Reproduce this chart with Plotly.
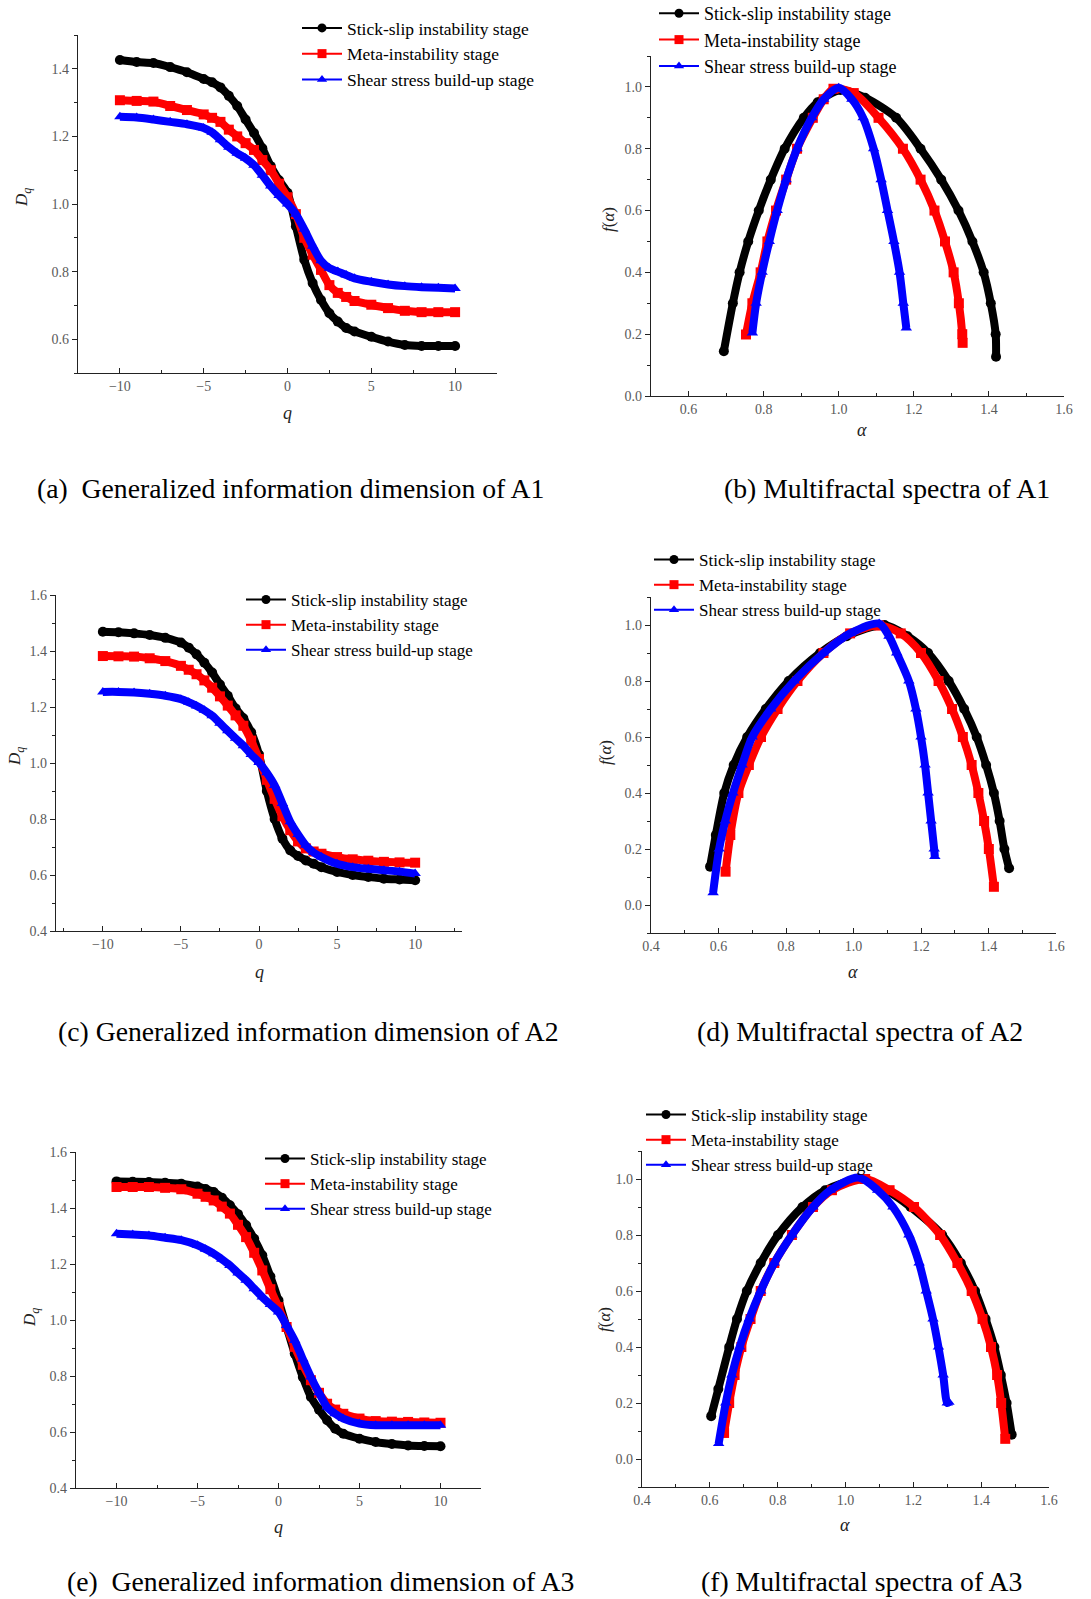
import plotly.graph_objects as go

W, H = 1091, 1599

# ---------------- data ----------------
Q = [-10, -9, -8, -7, -6, -5, -4.5, -4, -3.5, -3, -2.5, -2, -1.5, -1, -0.5,
     0, 0.5, 1, 1.5, 2, 2.5, 3, 3.5, 4, 5, 6, 7, 8, 9, 10]

a_black = [1.426, 1.42, 1.417, 1.405, 1.39, 1.37, 1.36, 1.345, 1.32, 1.29, 1.25, 1.21, 1.165, 1.112, 1.07,
           1.033, 0.934, 0.835, 0.766, 0.716, 0.677, 0.652, 0.633, 0.623, 0.607, 0.593, 0.583, 0.58, 0.58, 0.58]
a_red = [1.307, 1.305, 1.303, 1.29, 1.278, 1.265, 1.255, 1.243, 1.22, 1.2, 1.18, 1.16, 1.13, 1.1, 1.06,
         1.02, 0.97, 0.9, 0.85, 0.805, 0.76, 0.737, 0.725, 0.713, 0.702, 0.692, 0.684, 0.68, 0.68, 0.68]
a_blue = [1.258, 1.256, 1.25, 1.243, 1.236, 1.225, 1.212, 1.19, 1.168, 1.15, 1.135, 1.115, 1.085, 1.053, 1.025,
          1.0, 0.97, 0.925, 0.875, 0.832, 0.81, 0.8, 0.79, 0.78, 0.77, 0.762, 0.757, 0.754, 0.752, 0.75]

c_black = [1.469, 1.467, 1.463, 1.457, 1.447, 1.43, 1.412, 1.388, 1.358, 1.323, 1.28, 1.24, 1.195, 1.16, 1.11,
           1.03, 0.9, 0.8, 0.73, 0.688, 0.668, 0.652, 0.64, 0.628, 0.611, 0.6, 0.593, 0.587, 0.584, 0.581]
c_red = [1.382, 1.381, 1.38, 1.374, 1.364, 1.347, 1.333, 1.317, 1.295, 1.269, 1.238, 1.205, 1.17, 1.133, 1.08,
         1.014, 0.94, 0.872, 0.81, 0.76, 0.72, 0.695, 0.684, 0.676, 0.664, 0.656, 0.651, 0.647, 0.645, 0.644]
c_blue = [1.254, 1.254, 1.252, 1.247, 1.24, 1.228, 1.217, 1.204, 1.188, 1.169, 1.142, 1.115, 1.088, 1.062, 1.03,
          1.002, 0.965, 0.92, 0.855, 0.79, 0.745, 0.706, 0.68, 0.664, 0.64, 0.628, 0.622, 0.617, 0.612, 0.605]

e_black = [1.495, 1.494, 1.493, 1.49, 1.487, 1.477, 1.468, 1.457, 1.437, 1.41, 1.378, 1.338, 1.29, 1.231, 1.155,
           1.07, 0.975, 0.88, 0.796, 0.725, 0.68, 0.642, 0.612, 0.594, 0.576, 0.564, 0.557, 0.552, 0.55, 0.549]
e_red = [1.475, 1.475, 1.475, 1.472, 1.467, 1.451, 1.44, 1.427, 1.405, 1.38, 1.34, 1.296, 1.24, 1.177, 1.11,
         1.046, 0.975, 0.904, 0.84, 0.785, 0.74, 0.701, 0.68, 0.665, 0.648, 0.639, 0.637, 0.636, 0.634, 0.633]
e_blue = [1.308, 1.305, 1.302, 1.294, 1.285, 1.267, 1.253, 1.237, 1.217, 1.195, 1.168, 1.142, 1.112, 1.082, 1.055,
          1.029, 0.98, 0.927, 0.86, 0.796, 0.74, 0.689, 0.665, 0.648, 0.63, 0.624, 0.624, 0.624, 0.624, 0.624]

# multifractal spectra (alpha, f(alpha))
b_black_a = [0.694, 0.718, 0.736, 0.759, 0.787, 0.819, 0.856, 0.907, 0.944, 1.005, 1.07, 1.153, 1.218, 1.273, 1.319, 1.356, 1.386, 1.405, 1.418, 1.419]
b_black_f = [0.145, 0.3, 0.4, 0.5, 0.6, 0.7, 0.8, 0.9, 0.95, 0.99, 0.965, 0.9, 0.8, 0.7, 0.6, 0.5, 0.4, 0.3, 0.2, 0.127]
b_red_a = [0.753, 0.77, 0.792, 0.81, 0.833, 0.86, 0.889, 0.931, 0.96, 0.986, 1.04, 1.106, 1.171, 1.218, 1.255, 1.283, 1.306, 1.32, 1.329, 1.33]
b_red_f = [0.199, 0.3, 0.4, 0.5, 0.6, 0.7, 0.8, 0.9, 0.96, 0.994, 0.98, 0.9, 0.8, 0.7, 0.6, 0.5, 0.4, 0.3, 0.2, 0.172]
b_blue_a = [0.77, 0.78, 0.796, 0.815, 0.836, 0.86, 0.889, 0.928, 0.96, 1.0, 1.035, 1.065, 1.093, 1.113, 1.13, 1.147, 1.162, 1.172, 1.18]
b_blue_f = [0.204, 0.3, 0.4, 0.5, 0.6, 0.7, 0.8, 0.9, 0.96, 0.997, 0.96, 0.9, 0.8, 0.7, 0.6, 0.5, 0.4, 0.3, 0.22]

d_black_a = [0.575, 0.592, 0.617, 0.645, 0.685, 0.74, 0.808, 0.901, 0.98, 1.092, 1.16, 1.221, 1.282, 1.328, 1.365, 1.393, 1.416, 1.433, 1.447, 1.461]
d_black_f = [0.137, 0.25, 0.4, 0.5, 0.6, 0.7, 0.8, 0.9, 0.96, 1.0, 0.96, 0.9, 0.8, 0.7, 0.6, 0.5, 0.4, 0.3, 0.2, 0.131]
d_red_a = [0.621, 0.635, 0.659, 0.69, 0.726, 0.775, 0.834, 0.911, 0.99, 1.076, 1.14, 1.2, 1.252, 1.292, 1.324, 1.35, 1.37, 1.387, 1.401, 1.416]
d_red_f = [0.119, 0.25, 0.4, 0.5, 0.6, 0.7, 0.8, 0.9, 0.97, 0.998, 0.97, 0.9, 0.8, 0.7, 0.6, 0.5, 0.4, 0.3, 0.2, 0.065]
d_blue_a = [0.584, 0.602, 0.62, 0.643, 0.67, 0.7, 0.755, 0.824, 0.911, 0.99, 1.076, 1.105, 1.128, 1.164, 1.185, 1.2, 1.212, 1.221, 1.23, 1.239, 1.241]
d_blue_f = [0.044, 0.2, 0.3, 0.4, 0.5, 0.6, 0.7, 0.8, 0.9, 0.97, 1.005, 0.96, 0.9, 0.8, 0.7, 0.6, 0.5, 0.4, 0.3, 0.2, 0.173]

f_black_a = [0.604, 0.625, 0.657, 0.68, 0.709, 0.75, 0.801, 0.873, 0.94, 1.048, 1.12, 1.192, 1.285, 1.34, 1.382, 1.413, 1.439, 1.458, 1.475, 1.49]
f_black_f = [0.153, 0.25, 0.4, 0.5, 0.6, 0.7, 0.8, 0.9, 0.96, 1.0, 0.96, 0.9, 0.8, 0.7, 0.6, 0.5, 0.4, 0.3, 0.2, 0.087]
f_red_a = [0.642, 0.657, 0.673, 0.693, 0.72, 0.75, 0.79, 0.842, 0.904, 0.96, 1.058, 1.13, 1.202, 1.279, 1.33, 1.372, 1.404, 1.429, 1.447, 1.459, 1.471]
f_red_f = [0.093, 0.2, 0.3, 0.4, 0.5, 0.6, 0.7, 0.8, 0.9, 0.96, 1.0, 0.96, 0.9, 0.8, 0.7, 0.6, 0.5, 0.4, 0.3, 0.2, 0.072]
f_blue_a = [0.626, 0.647, 0.665, 0.688, 0.716, 0.75, 0.79, 0.842, 0.904, 0.955, 1.038, 1.095, 1.14, 1.187, 1.217, 1.238, 1.258, 1.274, 1.288, 1.3, 1.305]
f_blue_f = [0.055, 0.2, 0.3, 0.4, 0.5, 0.6, 0.7, 0.8, 0.9, 0.96, 1.005, 0.96, 0.9, 0.8, 0.7, 0.6, 0.5, 0.4, 0.3, 0.2, 0.203]

series_names = ["Stick-slip instability stage", "Meta-instability stage", "Shear stress build-up stage"]
captions = ["(a)&nbsp;&nbsp;Generalized information dimension of A1", "(b) Multifractal spectra of A1",
            "(c) Generalized information dimension of A2", "(d) Multifractal spectra of A2",
            "(e)&nbsp;&nbsp;Generalized information dimension of A3", "(f) Multifractal spectra of A3"]

# ---------------- styling ----------------
colors = ["#000000", "#ff0000", "#0000ff"]
symbols = ["circle", "square", "triangle-up"]
SERIF = "Liberation Serif, Times New Roman, serif"


def px_x(v):
    return v / W


def px_y(v):
    return 1 - v / H


# panel geometry in pixels: (x0, x1, ytop, ybottom)
panels = [
    dict(box=(78, 497, 35, 373), xr=[-12.5, 12.5], yr=[0.5, 1.5], xd=5, yd=0.2, kind="q",
         data=[(Q, a_black), (Q, a_red), (Q, a_blue)], leg=(297, 10), lfs=17.5,
         xt=(287, 413), yt=(23, 197), cap=(290, 489)),
    dict(box=(651, 1064, 56, 396), xr=[0.5, 1.6], yr=[0.0, 1.1], xd=0.2, yd=0.2, kind="a",
         data=[(b_black_a, b_black_f), (b_red_a, b_red_f), (b_blue_a, b_blue_f)], leg=(654, -5), lfs=18,
         xt=(862, 430), yt=(608, 220), cap=(887, 489)),
    dict(box=(56, 462, 595, 931), xr=[-13, 13], yr=[0.4, 1.6], xd=5, yd=0.2, kind="q",
         data=[(Q, c_black), (Q, c_red), (Q, c_blue)], leg=(241, 582), lfs=17,
         xt=(259, 972), yt=(16, 757), cap=(308, 1031)),
    dict(box=(651, 1056, 597, 933), xr=[0.4, 1.6], yr=[-0.1, 1.1], xd=0.2, yd=0.2, kind="a",
         data=[(d_black_a, d_black_f), (d_red_a, d_red_f), (d_blue_a, d_blue_f)], leg=(649, 542), lfs=17,
         xt=(853, 972), yt=(606, 753), cap=(860, 1031)),
    dict(box=(76, 481, 1152, 1488), xr=[-12.5, 12.5], yr=[0.4, 1.6], xd=5, yd=0.2, kind="q",
         data=[(Q, e_black), (Q, e_red), (Q, e_blue)], leg=(260, 1141), lfs=17,
         xt=(278, 1527), yt=(31, 1318), cap=(320, 1581)),
    dict(box=(642, 1049, 1151, 1487), xr=[0.4, 1.6], yr=[-0.1, 1.1], xd=0.2, yd=0.2, kind="a",
         data=[(f_black_a, f_black_f), (f_red_a, f_red_f), (f_blue_a, f_blue_f)], leg=(641, 1097), lfs=17,
         xt=(845, 1525), yt=(604, 1320), cap=(861, 1581)),
]

fig = go.Figure()
layout = dict(width=W, height=H, margin=dict(l=0, r=0, t=0, b=0, autoexpand=False),
              paper_bgcolor="white", plot_bgcolor="white", showlegend=True,
              font=dict(family=SERIF, color="black"))
annotations = []

for i, p in enumerate(panels):
    n = i + 1
    xa = "x" if n == 1 else f"x{n}"
    ya = "y" if n == 1 else f"y{n}"
    lg = "legend" if n == 1 else f"legend{n}"
    x0, x1, yt_, yb_ = p["box"]
    axcommon = dict(showline=True, linecolor="#222222", linewidth=1.4, showgrid=False,
                    zeroline=False, mirror=False,
                    tickfont=dict(family=SERIF, size=14, color="#5a5a5a"),
                    tickcolor="#222222", ticklen=5, tickwidth=1.2)
    layout["xaxis" if n == 1 else f"xaxis{n}"] = dict(
        axcommon, domain=[px_x(x0), px_x(x1)], range=p["xr"], anchor=ya,
        ticks="inside", dtick=p["xd"], tick0=0,
        tickformat=".1f" if p["kind"] == "a" else "d",
        minor=dict(ticks="inside", ticklen=3, tickcolor="#222222", dtick=p["xd"] / 2, tick0=0))
    layout["yaxis" if n == 1 else f"yaxis{n}"] = dict(
        axcommon, domain=[px_y(yb_), px_y(yt_)], range=p["yr"], anchor=xa,
        ticks="outside", dtick=p["yd"], tick0=0, tickformat=".1f",
        minor=dict(ticks="outside", ticklen=3, tickcolor="#222222", dtick=p["yd"] / 2, tick0=0))
    lx, ly = p["leg"]
    layout[lg] = dict(x=px_x(lx), y=px_y(ly), xanchor="left", yanchor="top",
                      bgcolor="rgba(0,0,0,0)", borderwidth=0, tracegroupgap=0, itemwidth=40,
                      font=dict(family=SERIF, size=p["lfs"], color="black"))
    for k, (xs, ys) in enumerate(p["data"]):
        fig.add_trace(go.Scatter(
            x=xs, y=ys, xaxis=xa, yaxis=ya, mode="lines+markers", showlegend=False,
            line=dict(color=colors[k], width=8, shape="spline", smoothing=0.8),
            marker=dict(color=colors[k], symbol=symbols[k], size=10),
            hoverinfo="skip"))
    for k in range(3):
        fig.add_trace(go.Scatter(
            x=[None], y=[None], xaxis=xa, yaxis=ya, mode="lines+markers", name=series_names[k],
            legend=lg, line=dict(color=colors[k], width=2),
            marker=dict(color=colors[k], symbol=symbols[k], size=9)))
    # axis titles
    xtitle = "<i>q</i>" if p["kind"] == "q" else "<i>α</i>"
    ytitle = "<i>D<sub>q</sub></i>" if p["kind"] == "q" else "<i>f</i>(<i>α</i>)"
    annotations.append(dict(x=px_x(p["xt"][0]), y=px_y(p["xt"][1]), xref="paper", yref="paper",
                            xanchor="center", yanchor="middle",
                            text=xtitle, showarrow=False, font=dict(family=SERIF, size=18, color="#222222")))
    annotations.append(dict(x=px_x(p["yt"][0]), y=px_y(p["yt"][1]), xref="paper", yref="paper",
                            xanchor="center", yanchor="middle",
                            text=ytitle, showarrow=False, textangle=-90,
                            font=dict(family=SERIF, size=17, color="#222222")))
    cx, cy = p["cap"]
    annotations.append(dict(x=px_x(cx), y=px_y(cy), xref="paper", yref="paper", xanchor="center",
                            yanchor="middle", text=captions[i], showarrow=False,
                            font=dict(family=SERIF, size=27.7, color="black")))

layout["annotations"] = annotations
fig.update_layout(**layout)
fig.write_html("out.html")
